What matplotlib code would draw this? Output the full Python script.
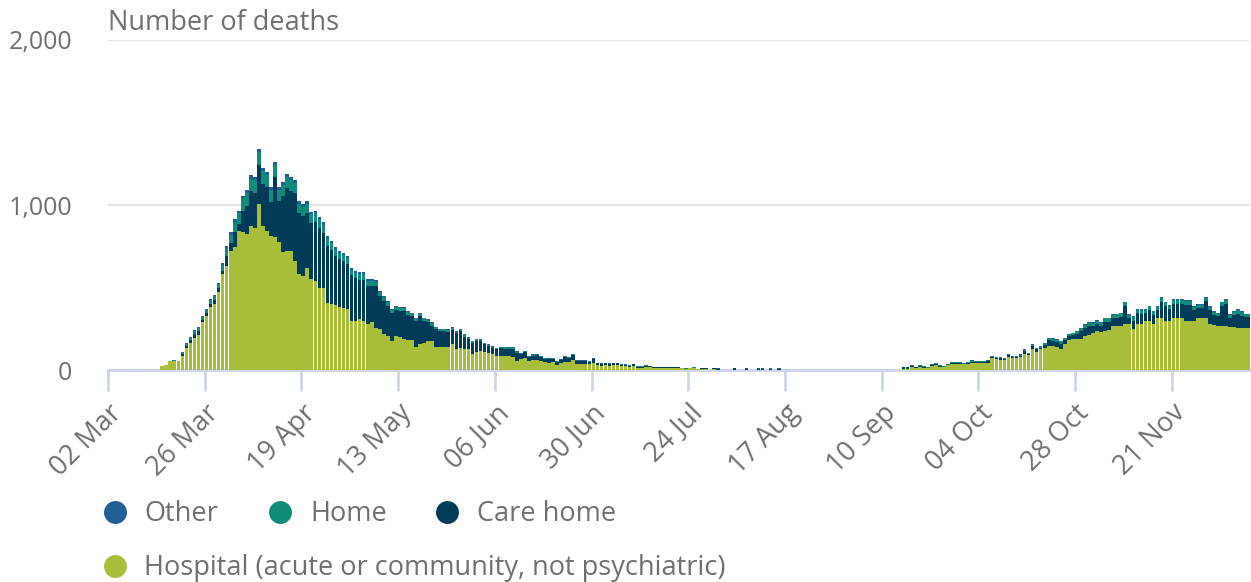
import numpy as np
import pandas as pd
import matplotlib
matplotlib.use('Agg')
import matplotlib.pyplot as plt
from matplotlib.lines import Line2D

plt.rcParams['font.family'] = ['Open Sans', 'DejaVu Sans']

# ---------------- data (daily deaths by place of occurrence) ----------------
start_date = '2020-03-15'

hospital = [
    22, 30, 52, 54, 52, 85, 136, 165, 196, 215,
    290, 328, 380, 400, 470, 581, 632, 723, 743, 845,
    835, 825, 875, 860, 1005, 875, 845, 815, 805, 775,
    713, 723, 720, 662, 581, 571, 618, 551, 541, 500,
    500, 409, 399, 395, 379, 375, 369, 298, 300, 308,
    298, 278, 288, 257, 247, 217, 207, 176, 207, 203,
    186, 180, 180, 140, 156, 166, 176, 176, 140, 142,
    142, 140, 156, 126, 136, 126, 126, 95, 111, 115,
    111, 105, 95, 85, 85, 85, 85, 80, 55, 65,
    75, 55, 60, 62, 55, 48, 45, 48, 30, 40,
    50, 50, 60, 38, 36, 36, 34, 42, 28, 25,
    28, 25, 28, 28, 24, 22, 20, 24, 14, 14,
    18, 16, 12, 12, 12, 10, 12, 12, 15, 12,
    8, 10, 14, 4, 5, 4, 0, 4, 3, 0,
    0, 0, 3, 0, 0, 3, 0, 0, 3, 3,
    0, 3, 0, 3, 0, 0, 0, 0, 0, 0,
    0, 0, 0, 0, 0, 0, 0, 0, 0, 0,
    0, 0, 0, 0, 0, 0, 0, 0, 0, 0,
    0, 0, 0, 0, 5, 6, 18, 12, 18, 15,
    12, 22, 30, 20, 18, 28, 38, 37, 38, 36,
    37, 45, 40, 40, 42, 44, 71, 65, 62, 60,
    79, 72, 72, 79, 100, 90, 126, 110, 126, 135,
    146, 146, 140, 130, 160, 180, 186, 186, 190, 205,
    210, 227, 237, 230, 237, 245, 267, 267, 267, 278,
    278, 250, 278, 278, 298, 298, 280, 318, 318, 298,
    298, 314, 314, 314, 294, 294, 294, 318, 318, 318,
    278, 270, 265, 267, 267, 260, 260, 257, 257, 257,
    257,
]

care_home = [
    0, 0, 0, 1, 0, 12, 10, 14, 20, 20,
    12, 15, 20, 25, 25, 20, 60, 45, 95, 40,
    130, 170, 210, 215, 240, 255, 265, 205, 365, 250,
    340, 380, 365, 410, 370, 360, 335, 337, 353, 358,
    330, 343, 327, 293, 292, 283, 272, 275, 255, 240,
    250, 232, 222, 250, 200, 202, 183, 167, 156, 155,
    172, 156, 146, 157, 171, 132, 113, 93, 106, 92,
    92, 91, 89, 96, 100, 77, 61, 68, 66, 58,
    44, 40, 40, 40, 47, 45, 43, 50, 50, 32,
    32, 22, 27, 29, 22, 20, 19, 20, 18, 18,
    28, 23, 32, 15, 17, 17, 15, 23, 12, 10,
    12, 10, 12, 12, 9, 8, 6, 10, 7, 7,
    9, 7, 6, 6, 6, 6, 6, 6, 2, 2,
    1, 1, 1, 1, 8, 7, 0, 9, 6, 0,
    0, 0, 8, 0, 0, 6, 0, 0, 5, 6,
    0, 2, 0, 4, 0, 0, 0, 0, 0, 0,
    0, 0, 0, 0, 0, 0, 0, 0, 0, 0,
    0, 0, 0, 0, 0, 0, 0, 0, 0, 0,
    0, 0, 0, 0, 12, 10, 6, 4, 5, 4,
    3, 6, 8, 5, 3, 2, 4, 5, 4, 3,
    6, 6, 8, 9, 7, 8, 6, 7, 10, 8,
    12, 6, 7, 8, 15, 6, 18, 15, 8, 19,
    35, 30, 30, 30, 20, 25, 24, 34, 48, 52,
    55, 40, 42, 35, 55, 48, 50, 50, 55, 110,
    35, 50, 65, 63, 45, 65, 55, 45, 92, 90,
    70, 88, 88, 88, 102, 102, 70, 58, 56, 98,
    85, 65, 60, 120, 135, 55, 75, 85, 73, 62,
    62,
]

home = [
    0, 2, 3, 3, 3, 10, 14, 15, 18, 18,
    20, 18, 22, 23, 27, 35, 50, 52, 62, 65,
    75, 78, 75, 75, 75, 75, 70, 68, 70, 63,
    66, 66, 64, 62, 58, 58, 56, 55, 55, 52,
    50, 48, 45, 42, 40, 40, 38, 35, 35, 34,
    34, 30, 30, 29, 25, 24, 22, 20, 20, 19,
    19, 18, 17, 16, 16, 15, 14, 14, 13, 13,
    13, 12, 12, 11, 11, 10, 10, 10, 10, 9,
    8, 8, 7, 7, 7, 7, 7, 7, 7, 6,
    6, 6, 6, 6, 6, 5, 5, 5, 5, 5,
    5, 5, 5, 4, 4, 4, 4, 4, 3, 3,
    3, 3, 3, 3, 3, 3, 3, 3, 2, 2,
    2, 2, 1, 1, 1, 1, 1, 1, 1, 1,
    1, 1, 3, 0, 0, 0, 0, 0, 0, 0,
    0, 0, 0, 0, 0, 0, 0, 0, 0, 0,
    0, 5, 0, 0, 0, 0, 0, 0, 0, 0,
    0, 0, 0, 0, 0, 0, 0, 0, 0, 0,
    0, 0, 0, 0, 0, 0, 0, 0, 0, 0,
    0, 0, 0, 0, 1, 2, 3, 2, 5, 3,
    3, 5, 6, 4, 3, 3, 6, 6, 6, 5,
    5, 6, 5, 5, 5, 5, 6, 5, 5, 5,
    6, 5, 4, 6, 9, 7, 10, 9, 10, 10,
    12, 13, 13, 13, 13, 13, 14, 14, 16, 18,
    20, 18, 20, 20, 22, 21, 21, 21, 22, 23,
    21, 24, 22, 24, 22, 22, 20, 22, 25, 22,
    22, 23, 23, 23, 22, 22, 20, 18, 20, 23,
    21, 19, 18, 23, 23, 18, 19, 22, 20, 18,
    18,
]

other = [
    0, 0, 0, 0, 0, 4, 6, 6, 7, 7,
    8, 8, 8, 8, 8, 10, 12, 15, 16, 16,
    17, 19, 19, 20, 21, 21, 20, 20, 20, 20,
    20, 20, 20, 19, 18, 18, 18, 17, 17, 16,
    15, 14, 13, 13, 12, 12, 11, 10, 10, 10,
    10, 9, 9, 9, 8, 7, 7, 6, 6, 6,
    6, 5, 5, 5, 5, 5, 5, 5, 4, 4,
    4, 4, 4, 4, 4, 4, 3, 3, 3, 3,
    3, 3, 3, 3, 3, 3, 3, 3, 3, 2,
    2, 2, 2, 2, 2, 2, 2, 2, 2, 2,
    2, 2, 2, 2, 2, 2, 2, 2, 2, 2,
    2, 2, 2, 2, 2, 1, 1, 1, 1, 1,
    1, 1, 1, 1, 1, 1, 1, 1, 0, 0,
    0, 0, 0, 0, 1, 1, 0, 1, 1, 0,
    0, 0, 1, 0, 0, 1, 0, 0, 4, 1,
    0, 0, 0, 5, 0, 0, 0, 0, 0, 0,
    0, 0, 0, 0, 0, 0, 0, 0, 0, 0,
    0, 0, 0, 0, 0, 0, 0, 0, 0, 0,
    0, 0, 0, 0, 0, 0, 1, 0, 2, 0,
    0, 1, 1, 1, 1, 1, 1, 1, 1, 1,
    1, 2, 2, 1, 1, 2, 2, 2, 2, 2,
    2, 2, 2, 2, 2, 2, 2, 2, 2, 2,
    3, 3, 3, 3, 3, 3, 3, 3, 3, 3,
    3, 3, 3, 3, 4, 4, 4, 4, 4, 4,
    4, 4, 4, 4, 4, 4, 4, 4, 5, 5,
    5, 5, 5, 5, 5, 5, 5, 5, 5, 5,
    5, 5, 5, 5, 5, 5, 5, 5, 5, 5,
    5,
]

legend_labels = ['Other', 'Home', 'Care home',
                 'Hospital (acute or community, not psychiatric)']
colors = {'Other': '#206095', 'Home': '#118C7B', 'Care home': '#003C57',
          'Hospital (acute or community, not psychiatric)': '#A8BD3A'}

x_tick_labels = ['02 Mar', '26 Mar', '19 Apr', '13 May', '06 Jun', '30 Jun',
                 '24 Jul', '17 Aug', '10 Sep', '04 Oct', '28 Oct', '21 Nov']
y_ticks = [0, 1000, 2000]
y_tick_labels = ['0', '1,000', '2,000']
y_title = 'Number of deaths'

# ---------------- figure ----------------
W, H = 1251, 582
fig = plt.figure(figsize=(W / 100, H / 100), dpi=100)
ax = fig.add_axes([108 / W, 1 - 370 / H, (1250 - 108) / W, 330 / H])

text_col = '#6f6f6f'
axis_col = '#cdd5e8'

dates = pd.date_range(start_date, periods=len(hospital), freq='D')
h = np.array(hospital, dtype=float)
c = np.array(care_home, dtype=float)
m = np.array(home, dtype=float)
o = np.array(other, dtype=float)

bw = 0.9
ax.bar(dates, h, width=bw, align='edge', color=colors[legend_labels[3]], linewidth=0, zorder=3)
ax.bar(dates, c, bottom=h, width=bw, align='edge', color=colors['Care home'], linewidth=0, zorder=3)
ax.bar(dates, m, bottom=h + c, width=bw, align='edge', color=colors['Home'], linewidth=0, zorder=3)
ax.bar(dates, o, bottom=h + c + m, width=bw, align='edge', color=colors['Other'], linewidth=0, zorder=3)

tick_dates = pd.to_datetime([t + ' 2020' for t in x_tick_labels], format='%d %b %Y')
x0 = tick_dates[0]
ax.set_xlim(x0, x0 + pd.Timedelta(days=283.4))
ax.set_ylim(0, 2000)

ax.set_xticks(tick_dates)
ax.set_xticklabels(x_tick_labels, rotation=45, ha='right', va='top',
                   rotation_mode='anchor')
ax.tick_params(axis='x', length=15, width=2, color=axis_col, labelsize=19.5,
               labelcolor=text_col, pad=6)

ax.set_yticks(y_ticks)
ax.set_yticklabels(y_tick_labels)
ax.tick_params(axis='y', length=0, pad=26, labelsize=18, labelcolor=text_col)

ax.yaxis.grid(True, color='#e4e4e4', linewidth=1.6, zorder=0)
ax.set_axisbelow(True)
for s in ['top', 'right', 'left']:
    ax.spines[s].set_visible(False)
ax.spines['bottom'].set_color(axis_col)
ax.spines['bottom'].set_linewidth(2)
ax.spines['bottom'].set_zorder(2)

fig.text(108 / W, 1 - 23 / H, y_title, fontsize=19.5, color=text_col,
         ha='left', va='center')

# ---------------- legend (manual, flowing) ----------------
leg_pos = [(115, 512, 144), (280, 512, 310), (447, 512, 477), (115, 566, 144)]
for lab, (mx, my, tx) in zip(legend_labels, leg_pos):
    fig.add_artist(Line2D([mx / W], [1 - my / H], marker='o', markersize=16.5,
                          markerfacecolor=colors[lab], markeredgewidth=0,
                          linestyle='none', transform=fig.transFigure))
    fig.text(tx / W, 1 - (my + 2) / H, lab, fontsize=19.5, color=text_col,
             ha='left', va='center')

fig.savefig('out.png', dpi=100)
